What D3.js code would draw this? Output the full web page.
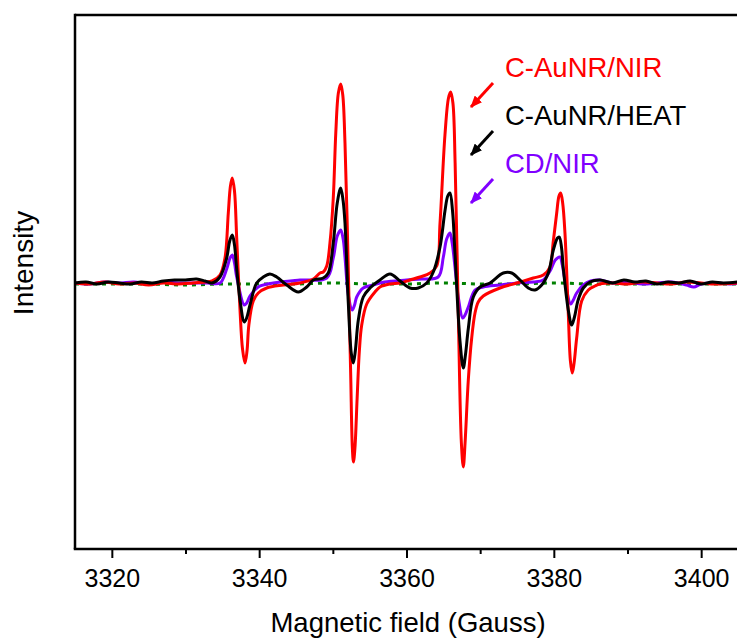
<!DOCTYPE html>
<html>
<head>
<meta charset="utf-8">
<script src="https://cdn.jsdelivr.net/npm/d3@7/dist/d3.min.js"></script>
<style>
  html, body { margin: 0; padding: 0; background: #fff; }
  svg { display: block; }
  text { font-family: "Liberation Sans", Arial, sans-serif; }
</style>
</head>
<body>
<svg id="chart" width="737" height="639"></svg>
<script>
// ---- Data (magnetic field in Gauss, intensity in arbitrary units) ----
const majorTicks = [3320, 3340, 3360, 3380, 3400];
const minorTicks = [3330, 3350, 3370, 3390];
const xLabel = "Magnetic field (Gauss)";
const yLabel = "Intensity";
const seriesNames = ["C-AuNR/NIR", "C-AuNR/HEAT", "CD/NIR"];

const redCAuNRNIR = [
  [3315,0],[3317,-1],[3319,1],[3321,-1],[3323,0],[3325,-2],[3327,0],[3329,-1],[3331,0],
  [3332.65,1],[3333.6,2],[3334.68,8],[3335.36,25],[3335.81,70],[3336.1,97],[3336.35,105],
  [3336.65,92],[3336.95,45],[3337.4,-27],[3337.74,-66],[3338.08,-80],[3338.35,-68],
  [3338.6,-42],[3339.2,-18],[3339.88,-10],
  [3341.02,-5],[3343.28,-2],[3345.54,0],[3347.35,4],[3348.26,10],[3348.7,11],[3349.17,17],
  [3349.61,40],[3350.06,85],[3350.4,150],[3350.75,190],[3351.07,199],[3351.35,188],
  [3351.65,140],[3352.1,13],[3352.42,-90],[3352.65,-165],[3352.8,-179],[3353.0,-165],
  [3353.3,-115],[3353.6,-68],[3353.92,-42],[3354.6,-21],[3355.72,-9],[3356.4,-4],[3357.76,-1],
  [3359.12,0],[3360.47,3],
  [3361.83,6],[3363.19,10],[3364.1,17],[3364.55,60],[3365.22,148],[3365.7,185],[3365.99,191],
  [3366.3,180],[3366.6,120],[3367.03,-30],[3367.45,-160],[3367.71,-184],[3367.95,-160],
  [3368.39,-97],[3368.85,-55],[3369.3,-30],[3369.74,-19],
  [3370.42,-13],[3372.69,-5],[3374.96,0],[3377.21,5],[3378.57,8],[3379.48,16],[3379.9,40],
  [3380.39,70],[3380.7,87],[3380.93,90],[3381.2,80],[3381.51,50],[3381.96,-30],[3382.25,-78],
  [3382.5,-90],[3382.75,-80],[3383.1,-55],[3383.78,-18],[3384.68,-7],[3385.59,-3],[3386.26,-1],
  [3388,0],[3390,-1],[3392,1],[3394,0],[3396,-1],[3398,1],[3400,0],[3402,-1],[3405,0]
];

const blackCAuNRHEAT = [
  [3315,0],[3316.5,1],[3318,-1],[3319.5,1],[3321,0],[3322.5,-1],[3324,1],[3325.5,0],[3327,2],
  [3328.5,3],[3330,3],[3331.5,4],[3332.65,2],[3333.6,0],[3334.68,6],[3335.59,25],[3336.0,42],
  [3336.35,48],[3336.65,38],[3336.95,14],[3337.4,-17],[3337.98,-39],[3338.3,-35],[3338.75,-22],
  [3339.66,0],[3340.56,6],[3341.47,9],
  [3342.38,6],[3343.74,-2],[3345.31,-9],[3346.45,-4],[3347.35,3],[3348.7,5],[3349.38,10],
  [3350.06,40],[3350.6,80],[3351.07,95],[3351.4,82],[3351.65,60],[3352.1,-20],[3352.5,-70],
  [3352.78,-80],[3353.05,-68],[3353.46,-37],
  [3354.13,-14],[3355.04,-5],[3356.4,3],[3357.76,9],[3359.12,2],[3360.47,-5],[3361.6,-5],
  [3362.74,0],[3363.64,11],[3364.55,36],[3365.22,72],[3365.6,87],[3365.9,90],[3366.25,72],
  [3366.58,30],[3367.26,-58],[3367.71,-85],[3368.0,-72],[3368.4,-45],[3369.07,-14],
  [3369.98,-4],[3371.33,0],[3373.14,10],[3374.28,10],
  [3375.41,3],[3376.53,-5],[3377.44,-7],[3378.35,-2],[3379.25,10],[3379.93,33],[3380.5,45],
  [3380.74,46],[3381.05,35],[3381.28,15],[3381.96,-27],[3382.42,-42],[3382.8,-34],[3383.3,-17],
  [3384.0,-5],[3384.91,1],[3386.26,3],
  [3388,0],[3389.5,3],[3391,1],[3392.5,2],[3394,-1],[3395.5,1],[3397,0],[3398.5,2],[3400,-1],
  [3401.5,1],[3403,0],[3405,1]
];

const purpleCDNIR = [
  [3315,0],[3317,-1],[3319,1],[3321,0],[3323,1],[3325,-1],[3327,1],[3329,0],[3331,0],[3333,0],
  [3334.68,0],[3335.59,14],[3336.05,25],[3336.35,28],[3336.65,20],[3336.95,6],[3337.98,-22],
  [3338.3,-20],[3338.75,-13],[3339.88,-4],
  [3341.92,0],[3345.54,3],[3349.17,5],[3350.06,25],[3350.6,47],[3351.07,53],[3351.4,44],
  [3351.65,26],[3352.1,-12],[3352.64,-27],[3352.95,-22],[3353.24,-14],[3354.13,-5],[3355.5,-2],
  [3357,1],[3360,3],[3362,4],
  [3364.3,6],[3365.0,26],[3365.45,44],[3365.9,50],[3366.2,40],[3366.58,16],[3367.03,-14],
  [3367.63,-35],[3367.95,-32],[3368.39,-24],[3369.3,-7],[3370.42,-4],[3372.69,-2],[3375,0],
  [3377.21,1],[3378.57,3],
  [3379.48,12],[3380.2,23],[3380.83,26],[3381.15,18],[3381.51,3],[3382.29,-21],[3382.65,-17],
  [3383.1,-10],[3384.0,-2],
  [3385,2],[3386.26,3],[3388,0],[3390,1],[3392,-1],[3394,0],[3396,1],[3398,-2],[3399,-4],
  [3400,-1],[3402,0],[3404,-1],[3405,0]
];

const greenControl = [
  [3315,-1],[3320,-1],[3325,-1],[3330,-2],[3335,-1],[3340,-1],[3345,-1],[3350,0],[3355,-1],
  [3360,-1],[3365,0],[3370,-1],[3375,-1],[3380,0],[3385,-1],[3390,-1],[3395,-1],[3400,-1],[3405,-1]
];

// ---- Layout ----
const svg = d3.select("#chart");
const mLeft = 75, mRight = 738, mTop = 15, mBottom = 549;
const x = d3.scaleLinear().domain([3315, 3405]).range([mLeft, mRight]);
const y = d3.scaleLinear().domain([-266, 268]).range([mBottom, mTop]);

const line = d3.line()
  .x(d => x(d[0]))
  .y(d => y(d[1]))
  .curve(d3.curveCatmullRom.alpha(0.5));

const plot = svg.append("g");
plot.append("path").datum(greenControl).attr("d", line)
  .attr("fill", "none").attr("stroke", "#008000").attr("stroke-width", 3)
  .attr("stroke-dasharray", "4,5");
[[purpleCDNIR, "#8000ff"], [redCAuNRNIR, "#ff0000"], [blackCAuNRHEAT, "#000000"]].forEach(([data, c]) => {
  plot.append("path").datum(data).attr("d", line)
    .attr("fill", "none").attr("stroke", c).attr("stroke-width", 3)
    .attr("stroke-linejoin", "round");
});

// Frame: left and top lines
svg.append("line").attr("x1", mLeft).attr("x2", mLeft).attr("y1", mTop - 1.25).attr("y2", mBottom)
  .attr("stroke", "#000").attr("stroke-width", 2.5);
svg.append("line").attr("x1", mLeft).attr("x2", mRight + 5).attr("y1", mTop).attr("y2", mTop)
  .attr("stroke", "#000").attr("stroke-width", 2.5);

// Bottom axis
const xAxis = d3.axisBottom(x).tickValues(majorTicks).tickSize(9).tickPadding(11)
  .tickSizeOuter(0).tickFormat(d3.format("d"));
const gx = svg.append("g").attr("transform", `translate(0,${mBottom})`).call(xAxis);
gx.select(".domain").attr("stroke-width", 2.5).attr("d", `M${mLeft - 1.25},0H${mRight + 5}`);
gx.selectAll(".tick line").attr("stroke-width", 2);
gx.selectAll(".tick text").attr("font-size", 25).attr("fill", "#000")
  .attr("font-family", "'Liberation Sans', Arial, sans-serif");
const gxMinor = svg.append("g").attr("transform", `translate(0,${mBottom})`)
  .call(d3.axisBottom(x).tickValues(minorTicks).tickSize(5).tickFormat(""));
gxMinor.select(".domain").remove();
gxMinor.selectAll(".tick line").attr("stroke-width", 2);

// Axis titles
svg.append("text").attr("x", 408).attr("y", 632).attr("text-anchor", "middle")
  .attr("font-size", 27.5).attr("fill", "#000").text(xLabel);
svg.append("text").attr("transform", "translate(33,263) rotate(-90)")
  .attr("text-anchor", "middle").attr("font-size", 28).attr("fill", "#000").text(yLabel);

// Legend annotations with arrows
const legendColors = ["#ff0000", "#000000", "#8000ff"];
const legendY = [77, 125, 173];
const defs = svg.append("defs");
legendColors.forEach((c, i) => {
  defs.append("marker").attr("id", "arrow" + i)
    .attr("viewBox", "0 0 12 10").attr("refX", 11).attr("refY", 5)
    .attr("markerWidth", 12).attr("markerHeight", 10).attr("markerUnits", "userSpaceOnUse")
    .attr("orient", "auto")
    .append("path").attr("d", "M0,0L12,5L0,10Z").attr("fill", c);
});
seriesNames.forEach((name, i) => {
  svg.append("text").attr("x", 505).attr("y", legendY[i])
    .attr("font-size", 27.5).attr("fill", legendColors[i]).text(name);
  const y0 = legendY[i] + 6;
  svg.append("line").attr("x1", 493).attr("y1", y0).attr("x2", 471).attr("y2", y0 + 24)
    .attr("stroke", legendColors[i]).attr("stroke-width", 3)
    .attr("marker-end", `url(#arrow${i})`);
});
</script>
</body>
</html>
